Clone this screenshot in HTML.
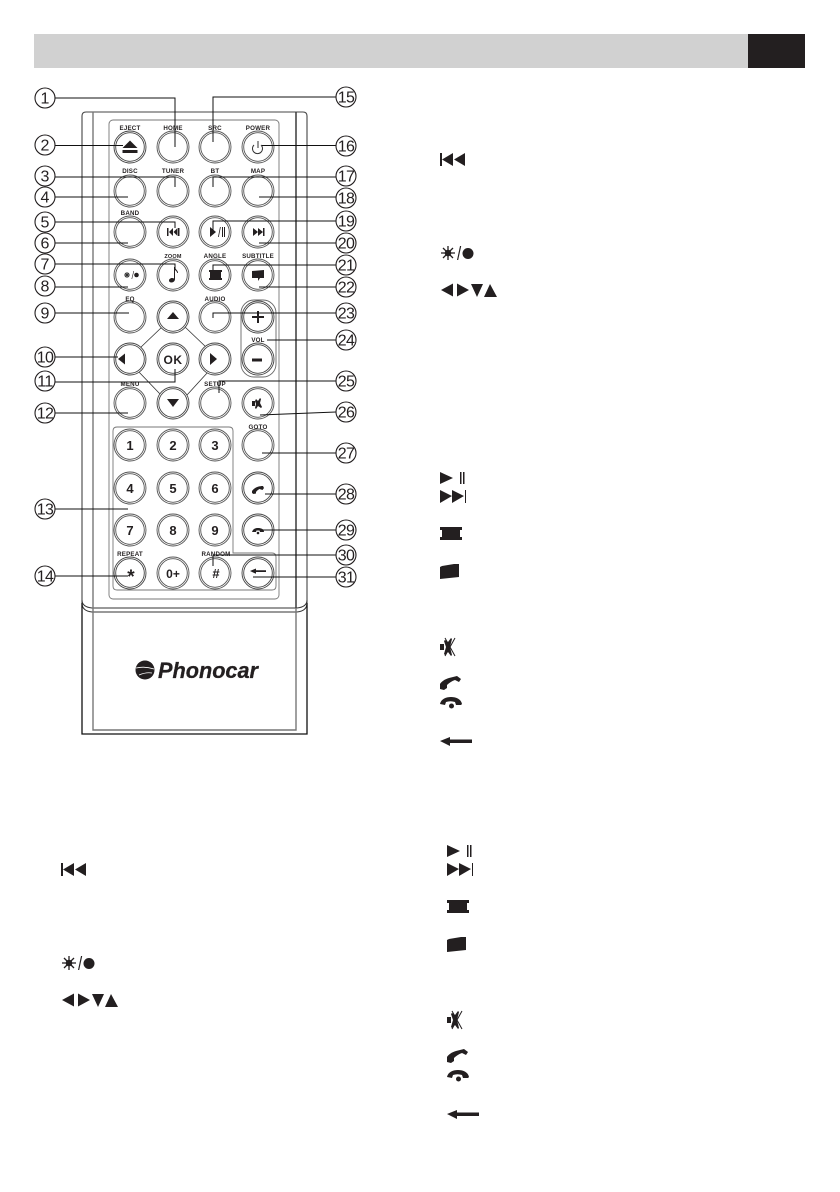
<!DOCTYPE html>
<html><head><meta charset="utf-8"><title>Remote control</title>
<style>
html,body{margin:0;padding:0;background:#fff}
svg{display:block}
text{font-family:"Liberation Sans",sans-serif;fill:#231f20}
.l{font-size:6.2px;font-weight:bold;text-anchor:middle;letter-spacing:.2px}
.n{font-size:13px;font-weight:bold;text-anchor:middle}
.c{font-size:16px;text-anchor:middle}
.d{font-size:16px;text-anchor:middle;letter-spacing:-.6px}
</style></head><body>
<svg width="840" height="1192" viewBox="0 0 840 1192" xmlns="http://www.w3.org/2000/svg">
<defs>
<g id="b"><circle r="16" fill="#fff" stroke="#555" stroke-width=".9"/><circle r="14.300" fill="#fff" stroke="#555" stroke-width=".9"/></g>
<g id="k"><circle r="16" fill="#fff" stroke="#444" stroke-width=".9"/><circle r="14.300" fill="#fff" stroke="#444" stroke-width=".9"/></g>
<circle id="o" r="10" fill="#fff" stroke="#231f20" stroke-width="1.1"/>
<g id="setA" fill="#231f20">
<path d="M440 153h2v13h-2zM442 159.500l11-6.500v13zM454 159.500l11-6.500v13z"/>
<g stroke="#231f20" stroke-width="1.3"><path d="M441 253h14M448 246v14M443 248l10 10M443 258l10-10"/></g><circle cx="448" cy="253" r="3.300"/>
<path d="M457 260l3-14h1.200l-3 14z"/><circle cx="468" cy="253.500" r="5.500"/>
<path d="M441 290l12-6.500v13zM457 283.500l12 6.500-12 6.500zM471 284h12l-6 13zM484 297l6-13 7 13z"/>
</g>
<g id="setB" fill="#231f20">
<path d="M440 472l13 6-13 6zM460 472h1.500v12h-1.500zM463 472h1.500v12h-1.500z"/>
<path d="M440 490l12 6-12 7zM452 490l12 6-12 7zM465 490h1v13h-1z"/>
<path d="M440 527h22v3h-2v7h2v3h-22v-3h2v-7h-2z"/>
<path d="M440 567l2-1 12-2h5v13l-19 2z"/>
<path d="M440 644h4v6h-4z"/>
<path d="M445 640l3 2 3-4 1 1-2 8 2 8-1 1-3-4-3 3-1-1 2-7-2-6z"/>
<path d="M445 638l10 18M455 638l-10 18" stroke="#231f20" stroke-width="1" fill="none"/>
<path d="M440 689v-5c1-2 5-5 9-6l8-2 4 3-2 3-4-2c-3 1-6 3-8 5v3l-3 2z"/>
<path d="M440 704c1-5 6-7 11-7s10 2 11 7l-1 1h-5l-1-3c-3-1-6-1-9 0l-1 3z"/><circle cx="451.500" cy="706" r="2.500"/>
<path d="M440 741l10-4v2.500h22v3.500h-22v3z"/>
</g>
</defs>

<rect x="34" y="34" width="714" height="34" fill="#d1d1d1"/>
<rect x="748" y="34" width="57" height="34" fill="#231f20"/>

<!-- body -->
<g fill="none" stroke="#444" stroke-width="1">
<path d="M82 608V116q0-4 4-4h217q4 0 4 4v492" stroke="#444" stroke-width="1.100"/>
<path d="M82 603q0 8 10 9h205q10-1 10-9" stroke="#333"/>
<path d="M82 603v131h225V603" stroke="#111" stroke-width="1.300"/>
<path d="M82 600q0 7 10 8h205q10-1 10-8" stroke="#333"/>
<path d="M93 112V730h203V112" stroke="#777" stroke-width="1.400"/>
<path d="M296 112V608" stroke="#222" stroke-width="1.100"/>
<rect x="109" y="120" width="170" height="479" rx="4" stroke="#777" stroke-width=".9"/>
<path d="M233 553V431q0-4-4-4H117q-4 0-4 4v155q0 4 4 4h155q4 0 4-4v-29q0-4-4-4z" stroke="#777" stroke-width=".9"/>
<rect x="241" y="300" width="35" height="77" rx="13" stroke="#666" stroke-width=".9"/>
<path d="M162 327L140 348M185 327L207 348M138 371L160 394M208 372L187 395" stroke="#333" stroke-width=".8"/>
</g>

<!-- buttons -->
<use href="#k" x="130" y="147"/><use href="#b" x="173" y="147"/><use href="#b" x="215" y="147"/><use href="#b" x="258" y="147"/>
<use href="#b" x="130" y="191"/><use href="#b" x="173" y="191"/><use href="#b" x="215" y="191"/><use href="#b" x="258" y="191"/>
<use href="#b" x="130" y="232"/><use href="#b" x="173" y="232"/><use href="#b" x="215" y="232"/><use href="#b" x="258" y="232"/>
<use href="#b" x="130" y="275"/><use href="#b" x="173" y="275"/><use href="#b" x="215" y="275"/><use href="#b" x="258" y="275"/>
<use href="#b" x="130" y="317"/><use href="#k" x="173" y="317"/><use href="#b" x="215" y="317"/><use href="#k" x="258" y="317"/>
<use href="#k" x="130" y="359"/><use href="#k" x="173" y="359"/><use href="#k" x="215" y="359"/><use href="#k" x="258" y="359"/>
<use href="#b" x="130" y="403"/><use href="#k" x="173" y="403"/><use href="#b" x="215" y="403"/><use href="#b" x="258" y="403"/>
<use href="#b" x="130" y="445"/><use href="#b" x="173" y="445"/><use href="#b" x="215" y="445"/><use href="#b" x="258" y="445"/>
<use href="#b" x="130" y="488"/><use href="#b" x="173" y="488"/><use href="#b" x="215" y="488"/><use href="#k" x="258" y="488"/>
<use href="#b" x="130" y="530"/><use href="#b" x="173" y="530"/><use href="#b" x="215" y="530"/><use href="#k" x="258" y="530"/>
<use href="#k" x="130" y="573"/><use href="#b" x="173" y="573"/><use href="#b" x="215" y="573"/><use href="#k" x="258" y="573"/>

<!-- button labels -->
<text class="l" x="130" y="130">EJECT</text><text class="l" x="173" y="130">HOME</text><text class="l" x="215" y="130">SRC</text><text class="l" x="258" y="130">POWER</text>
<text class="l" x="130" y="173">DISC</text><text class="l" x="173" y="173">TUNER</text><text class="l" x="215" y="173">BT</text><text class="l" x="258" y="173">MAP</text>
<text class="l" x="130" y="215">BAND</text>
<text class="l" x="173" y="258" style="font-size:5.500px">ZOOM</text><text class="l" x="215" y="258">ANGLE</text><text class="l" x="258" y="258">SUBTITLE</text>
<text class="l" x="130" y="301">EQ</text><text class="l" x="215" y="301">AUDIO</text><text class="l" x="258" y="342">VOL</text>
<text class="l" x="130" y="386">MENU</text><text class="l" x="215" y="386">SETUP</text><text class="l" x="258" y="429">GOTO</text>
<text class="l" x="130" y="556">REPEAT</text><text class="l" x="216" y="556">RANDOM</text>

<!-- button glyphs -->
<g fill="#231f20">
<path d="M130 140.500l7.500 7.500h-15zM122.500 150h15v3h-15z"/>
<path d="M258 141v7" stroke="#333" fill="none"/><path d="M254 145a5 5 0 1 0 7 0" stroke="#333" fill="none"/>
<path d="M167 228h1.500v8H167zM169 232l4-4v8zM173.500 232l4-4v8zM178 228h1.500v8H178z"/>
<path d="M210 227l6 5-6 5zM218 237l2-10h.8l-2 10zM222 227h1v10h-1zM224 227h1v10h-1z"/>
<path d="M253 228l5 4-5 4zM258 228l5 4-5 4zM263 228h1.500v8H263z"/>
<path d="M124 275h6M127 272v6M125 273l4 4M125 277l4-4" stroke="#333" fill="none"/><path d="M131.500 279l2-8h.6l-2 8z"/><circle cx="136.500" cy="275" r="2.300"/>
<path d="M174 267h1c.5 3 3 3 3 6h-.8c0-1-1-2-2.200-3v9c0 2-1.500 3.500-3.500 3.500-1.500 0-2.500-.7-2.500-2s1.500-2.500 3-2.500c.7 0 1.300.2 2 .5z"/>
<path d="M209 270h13v2h-1v6h1v2h-13v-2h1v-6h-1z"/>
<path d="M252 271l12-1v8h-4l-2 3v-3h-6z"/>
<path d="M173 312l6 7h-12zM118 359l7-5.500v11zM210 353l7 6-7 6zM167 399h12l-6 8z"/>
<path d="M257 311h2v5h5v2h-5v5h-2v-5h-5v-2h5zM252 358.500h10v3h-10z"/>
<path d="M252 401h3v5h-3zM256 399l2 2 2-3 1 1-1 4 2 4-1 1-3-2-2 3-1-1 1-4-1-3z"/>
<path d="M252 493v-2c2-3 6-5 11-5l1 2-1.500 2-3-1c-1 .5-2.500 1.500-3.500 3v1.500l-2.500.5z"/>
<path d="M252 532c1-3 3-4 6-4s6 1 6 4h-4l-.5-1.500h-3l-.5 1.500z"/><circle cx="258" cy="533" r="1.300"/>
<path d="M250 571l6-2.500v1.700h10v1.800h-10v1.800z"/>
</g>
<g>
<text class="n" x="173" y="364" style="font-size:12px;letter-spacing:.5px">OK</text>
<text class="n" x="130" y="450">1</text><text class="n" x="173" y="450">2</text><text class="n" x="215" y="450">3</text>
<text class="n" x="130" y="493">4</text><text class="n" x="173" y="493">5</text><text class="n" x="215" y="493">6</text>
<text class="n" x="130" y="535">7</text><text class="n" x="173" y="535">8</text><text class="n" x="215" y="535">9</text>
<text class="n" x="131" y="583" style="font-size:19px">*</text><text class="n" x="173" y="578" style="font-size:12px">0+</text><text class="n" x="216" y="578">#</text>
</g>

<!-- leaders -->
<g fill="none" stroke="#111" stroke-width="1">
<path d="M55 98H175V147M55 145.500H123M55 177H175V187M55 197H128M55 222H175V228M55 243H128M55 264H175V269M55 287H128M55 313H129M55 357H118M55 382H175V369M55 413H128M55 509H128M55 576H128"/>
<path d="M336 97H213V142M336 145.500H262M336 177H213V187M336 197H259M336 221H213V230M336 243H259M336 265H213V270M336 287H259M336 313H213V318M336 340H267M336 381H219V393M336 412L260 415M336 453H262M336 494H265M336 530H262M336 555H213V566M336 577H253"/>
</g>

<!-- number circles left -->
<use href="#o" x="45" y="98"/><text class="c" x="45" y="103.500">1</text>
<use href="#o" x="45" y="145"/><text class="c" x="45" y="150.500">2</text>
<use href="#o" x="45" y="176"/><text class="c" x="45" y="181.500">3</text>
<use href="#o" x="45" y="197"/><text class="c" x="45" y="202.500">4</text>
<use href="#o" x="45" y="222"/><text class="c" x="45" y="227.500">5</text>
<use href="#o" x="45" y="243"/><text class="c" x="45" y="248.500">6</text>
<use href="#o" x="45" y="264"/><text class="c" x="45" y="269.500">7</text>
<use href="#o" x="45" y="286"/><text class="c" x="45" y="291.500">8</text>
<use href="#o" x="45" y="313"/><text class="c" x="45" y="318.500">9</text>
<use href="#o" x="45" y="357"/><text class="d" x="45" y="362.500">10</text>
<use href="#o" x="45" y="381"/><text class="d" x="45" y="386.500">11</text>
<use href="#o" x="45" y="413"/><text class="d" x="45" y="418.500">12</text>
<use href="#o" x="45" y="509"/><text class="d" x="45" y="514.500">13</text>
<use href="#o" x="45" y="576"/><text class="d" x="45" y="581.500">14</text>
<!-- number circles right -->
<use href="#o" x="346" y="97"/><text class="d" x="346" y="102.500">15</text>
<use href="#o" x="346" y="146"/><text class="d" x="346" y="151.500">16</text>
<use href="#o" x="346" y="176"/><text class="d" x="346" y="181.500">17</text>
<use href="#o" x="346" y="198"/><text class="d" x="346" y="203.500">18</text>
<use href="#o" x="346" y="221"/><text class="d" x="346" y="226.500">19</text>
<use href="#o" x="346" y="243"/><text class="d" x="346" y="248.500">20</text>
<use href="#o" x="346" y="265"/><text class="d" x="346" y="270.500">21</text>
<use href="#o" x="346" y="287"/><text class="d" x="346" y="292.500">22</text>
<use href="#o" x="346" y="313"/><text class="d" x="346" y="318.500">23</text>
<use href="#o" x="346" y="340"/><text class="d" x="346" y="345.500">24</text>
<use href="#o" x="346" y="381"/><text class="d" x="346" y="386.500">25</text>
<use href="#o" x="346" y="412"/><text class="d" x="346" y="417.500">26</text>
<use href="#o" x="346" y="453"/><text class="d" x="346" y="458.500">27</text>
<use href="#o" x="346" y="494"/><text class="d" x="346" y="499.500">28</text>
<use href="#o" x="346" y="530"/><text class="d" x="346" y="535.500">29</text>
<use href="#o" x="346" y="555"/><text class="d" x="346" y="560.500">30</text>
<use href="#o" x="346" y="577"/><text class="d" x="346" y="582.500">31</text>

<!-- logo -->
<circle cx="145" cy="670" r="9.500" fill="#231f20"/>
<path d="M136 668q9-2 18 1M139 675q7-3 13-2" fill="none" stroke="#fff" stroke-width=".8"/>
<text x="158" y="678" textLength="100" lengthAdjust="spacingAndGlyphs" stroke="#231f20" stroke-width=".3" style="font-size:22px;font-weight:bold;font-style:italic">Phonocar</text>

<!-- icon lists -->
<use href="#setA"/>
<use href="#setA" x="-379" y="710"/>
<use href="#setB"/>
<use href="#setB" x="7" y="373"/>
</svg>
</body></html>
